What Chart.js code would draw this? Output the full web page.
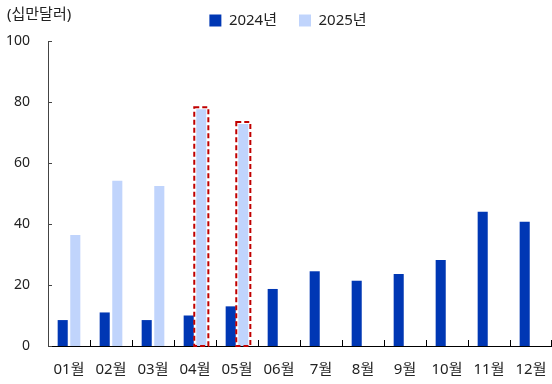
<!DOCTYPE html>
<html>
<head>
<meta charset="utf-8">
<script src="https://cdn.jsdelivr.net/npm/chart.js@4"></script>
<style>
  html, body { margin: 0; padding: 0; background: #fff; }
  #wrap { width: 552px; height: 384px; position: relative; }
</style>
</head>
<body>
<div id="wrap"><canvas id="exportChart"></canvas></div>
<script>
const months = ['01월', '02월', '03월', '04월', '05월', '06월', '7월', '8월', '9월', '10월', '11월', '12월'];
const values2024 = [8.5, 11, 8.5, 10, 13, 18.7, 24.5, 21.4, 23.6, 28.2, 44, 40.7];
const values2025 = [36.4, 54.2, 52.5, 77.6, 72.8, null, null, null, null, null, null, null];
const yTicks = [0, 20, 40, 60, 80, 100];
const unitLabel = '(십만달러)';
const highlighted = [3, 4]; // 2025 bars boxed in red

const FONT = "'Noto Sans', 'Noto Sans CJK KR', sans-serif";

// short inward tick marks, unit label and dashed highlight boxes
const extrasPlugin = {
    id: 'extras',
    afterUpdate(chart) {
        // nudge the legend a little right of centre and up
        chart.legend.left += 12;
        chart.legend.right += 12;
        chart.legend.top -= 3;
        chart.legend.bottom -= 3;
    },
    afterDraw(chart) {
        const ctx = chart.ctx;
        const y = chart.scales.y;
        const area = chart.chartArea;
        ctx.save();

        ctx.strokeStyle = '#444';
        ctx.lineWidth = 1;
        yTicks.forEach(v => {
            const py = Math.round(y.getPixelForValue(v)) + 0.5;
            ctx.beginPath();
            ctx.moveTo(area.left, py);
            ctx.lineTo(area.left + 4, py);
            ctx.stroke();
        });
        ctx.strokeStyle = '#000';
        const step = (area.right - area.left) / months.length;
        for (let i = 1; i <= months.length; i++) {
            const px = Math.min(Math.round(area.left + step * i) + 0.5, area.right - 0.5);
            ctx.beginPath();
            ctx.moveTo(px, area.bottom);
            ctx.lineTo(px, area.bottom - 6);
            ctx.stroke();
        }

        ctx.fillStyle = '#222';
        ctx.font = '15px ' + FONT;
        ctx.textBaseline = 'middle';
        ctx.textAlign = 'left';
        ctx.fillText(unitLabel, 7, 15);

        const meta = chart.getDatasetMeta(1);
        ctx.strokeStyle = '#c00000';
        ctx.lineWidth = 2;
        ctx.setLineDash([5, 3]);
        highlighted.forEach(i => {
            const bar = meta.data[i];
            const left = bar.x - bar.width / 2 - 2;
            const top = bar.y - 2;
            ctx.strokeRect(left, top, bar.width + 4, bar.base - top);
        });
        ctx.restore();
    }
};

new Chart(document.getElementById('exportChart'), {
    type: 'bar',
    data: {
        labels: months,
        datasets: [
            { label: '2024년', data: values2024, backgroundColor: '#0037b4' },
            { label: '2025년', data: values2025, backgroundColor: '#c0d4fc' }
        ]
    },
    options: {
        responsive: true,
        maintainAspectRatio: false,
        animation: false,
        devicePixelRatio: 1,
        categoryPercentage: 0.6,
        barPercentage: 0.8,
        layout: { padding: { top: -6, left: 0, right: 0, bottom: 0 } },
        plugins: {
            legend: {
                position: 'top',
                align: 'center',
                labels: {
                    boxWidth: 12,
                    boxHeight: 12,
                    padding: 22,
                    color: '#222',
                    font: { family: FONT, size: 15 }
                }
            },
            tooltip: { enabled: false }
        },
        scales: {
            x: {
                afterFit(axis) {
                    axis.height = 38;
                    axis.paddingLeft = 0;
                    axis.paddingRight = 0;
                },
                grid: { display: false, drawTicks: false },
                border: { display: true, color: '#000', width: 1 },
                ticks: { color: '#222', padding: 15, font: { family: FONT, size: 15 } }
            },
            y: {
                min: 0,
                max: 100,
                afterBuildTicks(axis) { axis.ticks = yTicks.map(v => ({ value: v })); },
                afterFit(axis) { axis.width = 48; },
                grid: { display: false, drawTicks: false },
                border: { display: true, color: '#444', width: 1 },
                ticks: { color: '#222', padding: 18, font: { family: FONT, size: 14 } }
            }
        }
    },
    plugins: [extrasPlugin]
});
</script>
</body>
</html>
